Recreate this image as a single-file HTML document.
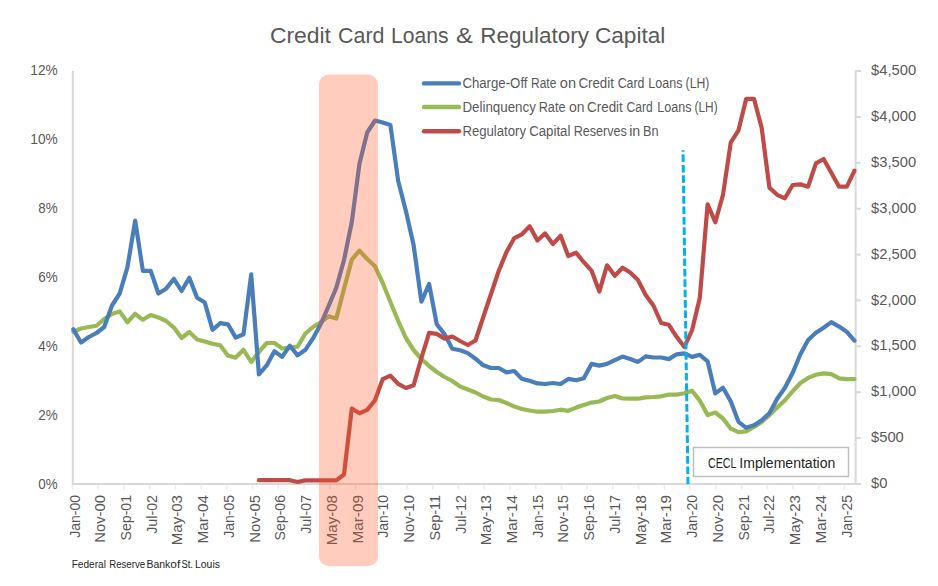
<!DOCTYPE html>
<html><head><meta charset="utf-8"><title>Credit Card Loans &amp; Regulatory Capital</title>
<style>
html,body{margin:0;padding:0;background:#fff;width:938px;height:586px;overflow:hidden}
svg{display:block;font-family:"Liberation Sans", sans-serif}
</style></head><body>
<svg width="938" height="586" viewBox="0 0 938 586">
<rect width="938" height="586" fill="#ffffff"/>
<g font-size="22" fill="#595959">
<text x="269.9" y="43" textLength="61.1" lengthAdjust="spacingAndGlyphs">Credit</text>
<text x="338.1" y="43" textLength="46.4" lengthAdjust="spacingAndGlyphs">Card</text>
<text x="391.0" y="43" textLength="57.5" lengthAdjust="spacingAndGlyphs">Loans</text>
<text x="456.1" y="43" textLength="16.9" lengthAdjust="spacingAndGlyphs">&amp;</text>
<text x="480.2" y="43" textLength="108.7" lengthAdjust="spacingAndGlyphs">Regulatory</text>
<text x="594.9" y="43" textLength="70.5" lengthAdjust="spacingAndGlyphs">Capital</text>
</g>
<g stroke="#d9d9d9" stroke-width="2" fill="none">
<line x1="72.8" y1="71" x2="72.8" y2="485"/>
<line x1="72" y1="484" x2="856.6" y2="484"/>
<line x1="855.6" y1="70.5" x2="855.6" y2="485"/>
<line x1="855.6" y1="484.0" x2="861" y2="484.0"/>
<line x1="855.6" y1="438.1" x2="861" y2="438.1"/>
<line x1="855.6" y1="392.2" x2="861" y2="392.2"/>
<line x1="855.6" y1="346.3" x2="861" y2="346.3"/>
<line x1="855.6" y1="300.4" x2="861" y2="300.4"/>
<line x1="855.6" y1="254.6" x2="861" y2="254.6"/>
<line x1="855.6" y1="208.7" x2="861" y2="208.7"/>
<line x1="855.6" y1="162.8" x2="861" y2="162.8"/>
<line x1="855.6" y1="116.9" x2="861" y2="116.9"/>
<line x1="855.6" y1="71.0" x2="861" y2="71.0"/>
</g>
<g stroke="#ebebeb" stroke-width="1.5" fill="none">
<line x1="72.5" y1="485" x2="72.5" y2="489.5"/>
<line x1="98.2" y1="485" x2="98.2" y2="489.5"/>
<line x1="124.0" y1="485" x2="124.0" y2="489.5"/>
<line x1="149.7" y1="485" x2="149.7" y2="489.5"/>
<line x1="175.4" y1="485" x2="175.4" y2="489.5"/>
<line x1="201.2" y1="485" x2="201.2" y2="489.5"/>
<line x1="226.9" y1="485" x2="226.9" y2="489.5"/>
<line x1="252.6" y1="485" x2="252.6" y2="489.5"/>
<line x1="278.4" y1="485" x2="278.4" y2="489.5"/>
<line x1="304.1" y1="485" x2="304.1" y2="489.5"/>
<line x1="329.8" y1="485" x2="329.8" y2="489.5"/>
<line x1="355.6" y1="485" x2="355.6" y2="489.5"/>
<line x1="381.3" y1="485" x2="381.3" y2="489.5"/>
<line x1="407.0" y1="485" x2="407.0" y2="489.5"/>
<line x1="432.8" y1="485" x2="432.8" y2="489.5"/>
<line x1="458.5" y1="485" x2="458.5" y2="489.5"/>
<line x1="484.2" y1="485" x2="484.2" y2="489.5"/>
<line x1="510.0" y1="485" x2="510.0" y2="489.5"/>
<line x1="535.7" y1="485" x2="535.7" y2="489.5"/>
<line x1="561.4" y1="485" x2="561.4" y2="489.5"/>
<line x1="587.2" y1="485" x2="587.2" y2="489.5"/>
<line x1="612.9" y1="485" x2="612.9" y2="489.5"/>
<line x1="638.6" y1="485" x2="638.6" y2="489.5"/>
<line x1="664.4" y1="485" x2="664.4" y2="489.5"/>
<line x1="690.1" y1="485" x2="690.1" y2="489.5"/>
<line x1="715.8" y1="485" x2="715.8" y2="489.5"/>
<line x1="741.6" y1="485" x2="741.6" y2="489.5"/>
<line x1="767.3" y1="485" x2="767.3" y2="489.5"/>
<line x1="793.0" y1="485" x2="793.0" y2="489.5"/>
<line x1="818.8" y1="485" x2="818.8" y2="489.5"/>
<line x1="844.5" y1="485" x2="844.5" y2="489.5"/>
</g>
<g font-size="15" fill="#595959" text-anchor="end">
<text x="57.7" y="489.4" textLength="19.4" lengthAdjust="spacingAndGlyphs">0%</text>
<text x="57.7" y="420.4" textLength="19.4" lengthAdjust="spacingAndGlyphs">2%</text>
<text x="57.7" y="351.4" textLength="19.4" lengthAdjust="spacingAndGlyphs">4%</text>
<text x="57.7" y="282.4" textLength="19.4" lengthAdjust="spacingAndGlyphs">6%</text>
<text x="57.7" y="213.4" textLength="19.4" lengthAdjust="spacingAndGlyphs">8%</text>
<text x="57.7" y="144.4" textLength="27.4" lengthAdjust="spacingAndGlyphs">10%</text>
<text x="57.7" y="75.4" textLength="27.4" lengthAdjust="spacingAndGlyphs">12%</text>
</g>
<g font-size="15" fill="#595959">
<text x="871" y="488.1" textLength="16.4" lengthAdjust="spacingAndGlyphs">$0</text>
<text x="871" y="442.2" textLength="32.8" lengthAdjust="spacingAndGlyphs">$500</text>
<text x="871" y="396.3" textLength="45.1" lengthAdjust="spacingAndGlyphs">$1,000</text>
<text x="871" y="350.4" textLength="45.1" lengthAdjust="spacingAndGlyphs">$1,500</text>
<text x="871" y="304.5" textLength="45.1" lengthAdjust="spacingAndGlyphs">$2,000</text>
<text x="871" y="258.7" textLength="45.1" lengthAdjust="spacingAndGlyphs">$2,500</text>
<text x="871" y="212.8" textLength="45.1" lengthAdjust="spacingAndGlyphs">$3,000</text>
<text x="871" y="166.9" textLength="45.1" lengthAdjust="spacingAndGlyphs">$3,500</text>
<text x="871" y="121.0" textLength="45.1" lengthAdjust="spacingAndGlyphs">$4,000</text>
<text x="871" y="75.1" textLength="45.1" lengthAdjust="spacingAndGlyphs">$4,500</text>
</g>
<g font-size="14" fill="#595959" text-anchor="end">
<text transform="translate(79.5,495) rotate(-90)" textLength="42.8" lengthAdjust="spacingAndGlyphs">Jan-00</text>
<text transform="translate(105.2,495) rotate(-90)" textLength="47.7" lengthAdjust="spacingAndGlyphs">Nov-00</text>
<text transform="translate(131.0,495) rotate(-90)" textLength="45.4" lengthAdjust="spacingAndGlyphs">Sep-01</text>
<text transform="translate(156.7,495) rotate(-90)" textLength="38.8" lengthAdjust="spacingAndGlyphs">Jul-02</text>
<text transform="translate(182.4,495) rotate(-90)" textLength="50.3" lengthAdjust="spacingAndGlyphs">May-03</text>
<text transform="translate(208.2,495) rotate(-90)" textLength="48.6" lengthAdjust="spacingAndGlyphs">Mar-04</text>
<text transform="translate(233.9,495) rotate(-90)" textLength="42.8" lengthAdjust="spacingAndGlyphs">Jan-05</text>
<text transform="translate(259.6,495) rotate(-90)" textLength="47.7" lengthAdjust="spacingAndGlyphs">Nov-05</text>
<text transform="translate(285.4,495) rotate(-90)" textLength="45.4" lengthAdjust="spacingAndGlyphs">Sep-06</text>
<text transform="translate(311.1,495) rotate(-90)" textLength="38.8" lengthAdjust="spacingAndGlyphs">Jul-07</text>
<text transform="translate(336.8,495) rotate(-90)" textLength="50.3" lengthAdjust="spacingAndGlyphs">May-08</text>
<text transform="translate(362.6,495) rotate(-90)" textLength="48.6" lengthAdjust="spacingAndGlyphs">Mar-09</text>
<text transform="translate(388.3,495) rotate(-90)" textLength="42.8" lengthAdjust="spacingAndGlyphs">Jan-10</text>
<text transform="translate(414.0,495) rotate(-90)" textLength="47.7" lengthAdjust="spacingAndGlyphs">Nov-10</text>
<text transform="translate(439.8,495) rotate(-90)" textLength="45.4" lengthAdjust="spacingAndGlyphs">Sep-11</text>
<text transform="translate(465.5,495) rotate(-90)" textLength="38.8" lengthAdjust="spacingAndGlyphs">Jul-12</text>
<text transform="translate(491.2,495) rotate(-90)" textLength="50.3" lengthAdjust="spacingAndGlyphs">May-13</text>
<text transform="translate(517.0,495) rotate(-90)" textLength="48.6" lengthAdjust="spacingAndGlyphs">Mar-14</text>
<text transform="translate(542.7,495) rotate(-90)" textLength="42.8" lengthAdjust="spacingAndGlyphs">Jan-15</text>
<text transform="translate(568.4,495) rotate(-90)" textLength="47.7" lengthAdjust="spacingAndGlyphs">Nov-15</text>
<text transform="translate(594.2,495) rotate(-90)" textLength="45.4" lengthAdjust="spacingAndGlyphs">Sep-16</text>
<text transform="translate(619.9,495) rotate(-90)" textLength="38.8" lengthAdjust="spacingAndGlyphs">Jul-17</text>
<text transform="translate(645.6,495) rotate(-90)" textLength="50.3" lengthAdjust="spacingAndGlyphs">May-18</text>
<text transform="translate(671.4,495) rotate(-90)" textLength="48.6" lengthAdjust="spacingAndGlyphs">Mar-19</text>
<text transform="translate(697.1,495) rotate(-90)" textLength="42.8" lengthAdjust="spacingAndGlyphs">Jan-20</text>
<text transform="translate(722.8,495) rotate(-90)" textLength="47.7" lengthAdjust="spacingAndGlyphs">Nov-20</text>
<text transform="translate(748.6,495) rotate(-90)" textLength="45.4" lengthAdjust="spacingAndGlyphs">Sep-21</text>
<text transform="translate(774.3,495) rotate(-90)" textLength="38.8" lengthAdjust="spacingAndGlyphs">Jul-22</text>
<text transform="translate(800.0,495) rotate(-90)" textLength="50.3" lengthAdjust="spacingAndGlyphs">May-23</text>
<text transform="translate(825.8,495) rotate(-90)" textLength="48.6" lengthAdjust="spacingAndGlyphs">Mar-24</text>
<text transform="translate(851.5,495) rotate(-90)" textLength="42.8" lengthAdjust="spacingAndGlyphs">Jan-25</text>
</g>
<g fill="none" stroke-width="4.2" stroke-linejoin="round" stroke-linecap="round">
<polyline stroke="#98b954" points="73.3,331.7 81.0,328.5 88.8,327.0 96.5,325.8 104.2,319.0 112.0,314.0 119.7,311.4 127.4,322.2 135.2,313.8 142.9,319.8 150.7,315.0 158.4,317.4 166.1,321.0 173.9,327.6 181.6,338.0 189.3,332.0 197.1,339.4 204.8,341.6 212.5,343.8 220.3,345.4 228.0,355.8 235.7,357.6 243.5,349.8 251.2,362.0 258.9,352.0 266.7,343.0 274.4,343.0 282.1,348.5 289.9,347.5 297.6,346.7 305.4,333.5 313.1,327.0 320.8,322.3 328.6,316.3 336.3,318.5 344.0,289.0 351.8,259.6 359.5,250.7 367.2,259.0 375.0,266.3 382.7,283.0 390.4,302.0 398.2,321.0 405.9,338.0 413.6,350.0 421.4,359.0 429.1,366.0 436.8,372.0 444.6,377.0 452.3,381.0 460.1,386.5 467.8,389.5 475.5,392.5 483.3,396.5 491.0,399.5 498.7,400.0 506.5,403.0 514.2,406.5 521.9,409.0 529.7,410.5 537.4,411.7 545.1,411.7 552.9,411.0 560.6,409.7 568.3,410.8 576.1,407.6 583.8,404.9 591.5,402.6 599.3,401.5 607.0,398.0 614.8,396.0 622.5,398.5 630.2,398.6 638.0,398.7 645.7,397.4 653.4,397.0 661.2,396.3 668.9,394.6 676.6,394.6 684.4,393.3 692.1,390.8 699.8,400.6 707.6,415.1 715.3,412.5 723.0,418.5 730.8,428.7 738.5,432.1 746.2,431.3 754.0,427.0 761.7,421.9 769.4,415.1 777.2,407.4 784.9,400.4 792.7,391.2 800.4,383.0 808.1,377.9 815.9,374.8 823.6,373.4 831.3,374.2 839.1,378.3 846.8,379.1 854.5,379.1"/>
<polyline stroke="#4a7ebb" points="73.3,329.3 81.0,342.5 88.8,337.0 96.5,333.0 104.2,327.0 112.0,305.5 119.7,293.5 127.4,267.3 135.2,220.7 142.9,270.9 150.7,270.9 158.4,293.5 166.1,288.8 173.9,278.8 181.6,291.0 189.3,277.7 197.1,297.7 204.8,302.6 212.5,329.8 220.3,323.2 228.0,324.3 235.7,337.6 243.5,334.3 251.2,274.4 258.9,374.5 266.7,365.4 274.4,351.3 282.1,356.9 289.9,345.7 297.6,355.4 305.4,349.8 313.1,338.2 320.8,324.1 328.6,306.0 336.3,287.7 344.0,260.0 351.8,222.0 359.5,163.5 367.2,132.5 375.0,120.5 382.7,122.5 390.4,125.0 398.2,181.0 405.9,211.0 413.6,245.0 421.4,301.7 429.1,284.0 436.8,324.3 444.6,334.3 452.3,348.7 460.1,350.3 467.8,353.1 475.5,358.7 483.3,365.3 491.0,368.0 498.7,368.0 506.5,372.4 514.2,371.0 521.9,378.9 529.7,380.7 537.4,383.4 545.1,384.0 552.9,383.0 560.6,384.0 568.3,378.9 576.1,380.3 583.8,378.3 591.5,363.9 599.3,365.6 607.0,363.9 614.8,360.2 622.5,356.6 630.2,359.1 638.0,361.9 645.7,356.4 653.4,357.5 661.2,357.5 668.9,359.1 676.6,354.3 684.4,353.4 692.1,356.9 699.8,354.8 707.6,361.3 715.3,393.4 723.0,387.8 730.8,401.4 738.5,421.8 746.2,427.8 754.0,425.3 761.7,420.2 769.4,413.3 777.2,398.8 784.9,387.8 792.7,372.7 800.4,354.3 808.1,340.0 815.9,332.8 823.6,327.7 831.3,322.1 839.1,326.6 846.8,331.8 854.5,340.6"/>
<polyline stroke="#be4b48" points="258.9,480.2 266.7,480.2 274.4,480.2 282.1,480.2 289.9,480.2 297.6,482.0 305.4,480.4 313.1,480.4 320.8,480.4 328.6,480.4 336.3,480.4 344.0,474.5 351.8,408.5 359.5,413.3 367.2,409.9 375.0,400.3 382.7,379.1 390.4,375.7 398.2,383.9 405.9,388.0 413.6,385.3 421.4,358.0 429.1,332.9 436.8,333.9 444.6,338.6 452.3,336.5 460.1,341.0 467.8,345.0 475.5,340.5 483.3,317.0 491.0,294.0 498.7,271.0 506.5,252.0 514.2,238.2 521.9,234.3 529.7,226.2 537.4,240.5 545.1,233.4 552.9,244.1 560.6,235.8 568.3,256.0 576.1,252.7 583.8,262.2 591.5,270.6 599.3,291.6 607.0,265.3 614.8,275.8 622.5,267.7 630.2,272.5 638.0,280.1 645.7,295.0 653.4,305.5 661.2,323.0 668.9,324.8 676.6,336.8 684.4,347.0 692.1,330.0 699.8,298.0 707.6,204.3 715.3,222.2 723.0,194.8 730.8,142.3 738.5,130.3 746.2,98.8 754.0,98.8 761.7,128.0 769.4,187.6 777.2,194.8 784.9,198.3 792.7,185.0 800.4,184.3 808.1,186.7 815.9,163.3 823.6,159.0 831.3,172.7 839.1,186.7 846.8,186.7 854.5,170.6"/>
</g>
<g stroke-width="4.4" stroke-linecap="round">
<line x1="424" y1="83.4" x2="459" y2="83.4" stroke="#4a7ebb"/>
<line x1="424" y1="107" x2="459" y2="107" stroke="#98b954"/>
<line x1="424" y1="131.2" x2="459" y2="131.2" stroke="#be4b48"/>
</g>
<g font-size="14" fill="#595959">
<text x="462.4" y="87.5" textLength="65.1" lengthAdjust="spacingAndGlyphs">Charge-Off</text>
<text x="531.0" y="87.5" textLength="25.3" lengthAdjust="spacingAndGlyphs">Rate</text>
<text x="559.8" y="87.5" textLength="16.2" lengthAdjust="spacingAndGlyphs">on</text>
<text x="578.4" y="87.5" textLength="35.5" lengthAdjust="spacingAndGlyphs">Credit</text>
<text x="617.7" y="87.5" textLength="26.8" lengthAdjust="spacingAndGlyphs">Card</text>
<text x="648.3" y="87.5" textLength="34.2" lengthAdjust="spacingAndGlyphs">Loans</text>
<text x="685.6" y="87.5" textLength="23.8" lengthAdjust="spacingAndGlyphs">(LH)</text>
<text x="462.4" y="111.5" textLength="73.5" lengthAdjust="spacingAndGlyphs">Delinquency</text>
<text x="538.7" y="111.5" textLength="26.8" lengthAdjust="spacingAndGlyphs">Rate</text>
<text x="569.0" y="111.5" textLength="15.5" lengthAdjust="spacingAndGlyphs">on</text>
<text x="587.1" y="111.5" textLength="35.7" lengthAdjust="spacingAndGlyphs">Credit</text>
<text x="626.6" y="111.5" textLength="26.1" lengthAdjust="spacingAndGlyphs">Card</text>
<text x="657.2" y="111.5" textLength="34.3" lengthAdjust="spacingAndGlyphs">Loans</text>
<text x="694.5" y="111.5" textLength="23.1" lengthAdjust="spacingAndGlyphs">(LH)</text>
<text x="462.4" y="135.5" textLength="63.6" lengthAdjust="spacingAndGlyphs">Regulatory</text>
<text x="529.2" y="135.5" textLength="41.2" lengthAdjust="spacingAndGlyphs">Capital</text>
<text x="573.7" y="135.5" textLength="53.1" lengthAdjust="spacingAndGlyphs">Reserves</text>
<text x="629.2" y="135.5" textLength="11.1" lengthAdjust="spacingAndGlyphs">in</text>
<text x="643.1" y="135.5" textLength="15.6" lengthAdjust="spacingAndGlyphs">Bn</text>
</g>
<rect x="319" y="74.5" width="59" height="491.7" rx="10" ry="10" fill="rgb(255,85,35)" fill-opacity="0.3"/>
<line x1="683" y1="150.3" x2="688" y2="484" stroke="#00b0f0" stroke-width="3" stroke-dasharray="7.6 2.8" stroke-dashoffset="6.2"/>
<rect x="693.5" y="447.5" width="155" height="29" fill="#ffffff" stroke="#bfbfbf" stroke-width="1.5"/>
<text x="708" y="468" font-size="14" fill="#262626" textLength="28.5" lengthAdjust="spacingAndGlyphs">CECL</text>
<text x="739.3" y="468" font-size="14" fill="#262626" textLength="96" lengthAdjust="spacingAndGlyphs">Implementation</text>
<g font-size="10" fill="#262626">
<text x="71.7" y="567.5" textLength="34.2" lengthAdjust="spacingAndGlyphs">Federal</text>
<text x="109.2" y="567.5" textLength="36.0" lengthAdjust="spacingAndGlyphs">Reserve</text>
<text x="146.4" y="567.5" textLength="24.0" lengthAdjust="spacingAndGlyphs">Bank</text>
<text x="170.3" y="567.5" textLength="9.9" lengthAdjust="spacingAndGlyphs">of</text>
<text x="181.4" y="567.5" textLength="11.6" lengthAdjust="spacingAndGlyphs">St.</text>
<text x="195.0" y="567.5" textLength="24.9" lengthAdjust="spacingAndGlyphs">Louis</text>
</g>
</svg>
</body></html>
